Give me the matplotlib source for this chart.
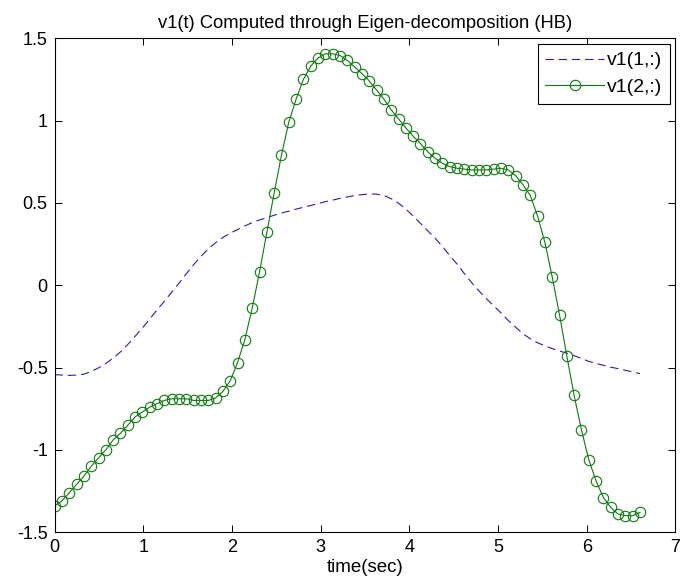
import matplotlib
matplotlib.use("Agg")
import matplotlib.pyplot as plt
import numpy as np

# -------------------------
# data
# -------------------------
t_start = 0.0
t_step = 0.0825

# v1(1,:)  (dashed blue)
v1_row1 = [
    -0.543, -0.546, -0.548, -0.546, -0.540, -0.525, -0.502, -0.475, -0.443, -0.405,
    -0.360, -0.310, -0.260, -0.205, -0.150, -0.098, -0.042, 0.012, 0.070, 0.125,
    0.175, 0.220, 0.258, 0.290, 0.316, 0.338, 0.360, 0.380, 0.396, 0.410,
    0.425, 0.438, 0.450, 0.462, 0.473, 0.484, 0.496, 0.507, 0.517, 0.527,
    0.536, 0.544, 0.550, 0.554, 0.553, 0.545, 0.525, 0.498, 0.462, 0.420,
    0.375, 0.330, 0.285, 0.235, 0.180, 0.128, 0.070, 0.015, -0.035, -0.082,
    -0.125, -0.168, -0.215, -0.255, -0.295, -0.325, -0.350, -0.368, -0.385, -0.400,
    -0.413, -0.428, -0.445, -0.463, -0.475, -0.487, -0.498, -0.507, -0.517, -0.527,
    -0.537,
]

# v1(2,:)  (green with circles)
v1_row2 = [
    -1.34, -1.31, -1.26, -1.21, -1.16, -1.10, -1.05, -1.00, -0.94, -0.90,
    -0.85, -0.80, -0.77, -0.74, -0.72, -0.70, -0.69, -0.69, -0.69, -0.70,
    -0.70, -0.70, -0.685, -0.645, -0.58, -0.47, -0.33, -0.14, 0.08, 0.32,
    0.56, 0.79, 0.99, 1.13, 1.25, 1.33, 1.38, 1.405, 1.405, 1.395,
    1.365, 1.325, 1.285, 1.24, 1.185, 1.13, 1.065, 1.01, 0.955, 0.905,
    0.86, 0.81, 0.77, 0.74, 0.72, 0.71, 0.705, 0.70, 0.70, 0.70,
    0.705, 0.71, 0.70, 0.665, 0.61, 0.545, 0.42, 0.26, 0.05, -0.18,
    -0.43, -0.67, -0.88, -1.06, -1.19, -1.29, -1.35, -1.39, -1.40, -1.40,
    -1.38,
]

x_ticks = [0, 1, 2, 3, 4, 5, 6, 7]
y_ticks = [-1.5, -1, -0.5, 0, 0.5, 1, 1.5]
y_ticklabels = ["-1.5", "-1", "-0.5", "0", "0.5", "1", "1.5"]

t = t_start + t_step * np.arange(len(v1_row1))

# -------------------------
# plotting
# -------------------------
plt.rcParams["font.family"] = ["Liberation Sans", "DejaVu Sans"]
plt.rcParams["lines.scale_dashes"] = False

fig = plt.figure(figsize=(6.83, 5.88), dpi=100)
# right edge pulled in a little so the "7" tick label is not clipped
ax = fig.add_axes([0.080, 0.095, 0.909, 0.84])

ax.plot(t, v1_row1, color="#2323a8", ls="--", lw=0.8, dashes=(6, 3.5), label="v1(1,:)")
ax.plot(t, v1_row2, color="#0f7a0f", lw=0.8, marker="o", ms=7.5,
        mfc="none", mec="#0f7a0f", mew=0.8, label="v1(2,:)")

ax.set_xlim(0, 7)
ax.set_ylim(-1.5, 1.5)
ax.set_xticks(x_ticks)
ax.set_yticks(y_ticks)
ax.set_yticklabels(y_ticklabels)
ax.tick_params(direction="in", length=5, width=0.7, top=True, right=True,
               labelsize=13, pad=5)
for s in ax.spines.values():
    s.set_linewidth(0.8)

ax.set_xlabel("time(sec)", fontsize=13.5, labelpad=2)
ax.set_title("v1(t) Computed through Eigen-decomposition (HB)", fontsize=13.2, pad=7)

leg = ax.legend(loc="upper right", fontsize=14, handlelength=3.0, handletextpad=0.15,
                borderaxespad=0.3, borderpad=0.4, labelspacing=0.45, fancybox=False,
                framealpha=1, edgecolor="black")
leg.get_frame().set_linewidth(0.8)

fig.savefig("out.png", dpi=100)
